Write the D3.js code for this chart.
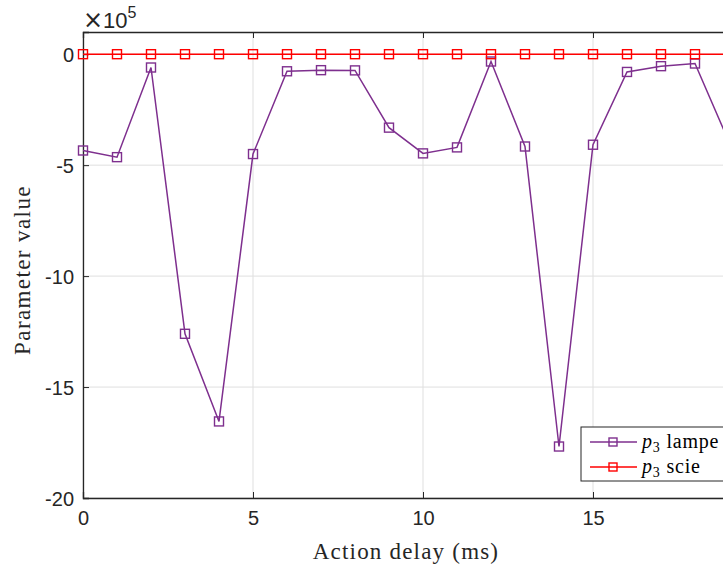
<!DOCTYPE html>
<html><head><meta charset="utf-8">
<script src="https://cdn.jsdelivr.net/npm/d3@7"></script>
<style>body{margin:0;background:#fff;overflow:hidden}svg{display:block}</style>
</head><body>
<script>
const xValues = [0,1,2,3,4,5,6,7,8,9,10,11,12,13,14,15,16,17,18,19];
const lampe = [-4.34,-4.64,-0.60,-12.6,-16.55,-4.50,-0.77,-0.72,-0.73,-3.31,-4.47,-4.20,-0.33,-4.16,-17.68,-4.08,-0.80,-0.54,-0.42,-3.96];
const scie = [0,0,0,0,0,0,0,0,0,0,0,0,0,0,0,0,0,0,0,0];
const xTicks = [0,5,10,15];
const yTicks = [0,-5,-10,-15,-20];
const seriesNames = ["lampe","scie"];

const W=723,H=567;
const m={l:83,r:729,t:32,b:498};
const svg=d3.select("body").append("svg").attr("width",W).attr("height",H);
const x=d3.scaleLinear().domain([0,19]).range([m.l,m.r]);
const y=d3.scaleLinear().domain([-20,1]).range([m.b,m.t]);
const axisCol="#262626", gridCol="#dfdfdf";

// grid
const g=svg.append("g");
g.selectAll(".gx").data(xTicks).enter().append("line")
 .attr("x1",d=>x(d)).attr("x2",d=>x(d)).attr("y1",m.t).attr("y2",m.b)
 .attr("stroke",gridCol).attr("stroke-width",1);
g.selectAll(".gy").data(yTicks).enter().append("line")
 .attr("x1",m.l).attr("x2",m.r).attr("y1",d=>y(d)).attr("y2",d=>y(d))
 .attr("stroke",gridCol).attr("stroke-width",1);

// axes
const fontSans="'Liberation Sans', Arial, sans-serif";
const fontSerif="'Liberation Serif','DejaVu Serif',serif";
const xAx=d3.axisBottom(x).tickValues(xTicks).tickSize(-6).tickPadding(13).tickFormat(d3.format("d"));
const xg=svg.append("g").attr("transform",`translate(0,${m.b})`).call(xAx);
const xTop=d3.axisTop(x).tickValues(xTicks).tickSize(-6).tickFormat("");
const xtg=svg.append("g").attr("transform",`translate(0,${m.t})`).call(xTop);
const yAx=d3.axisLeft(y).tickValues(yTicks).tickSize(-6).tickPadding(9).tickFormat(d=>d===0?"0":"-"+Math.abs(d));
const yg=svg.append("g").attr("transform",`translate(${m.l},0)`).call(yAx);
[xg,xtg,yg].forEach(a=>{
  a.selectAll("path").attr("stroke",axisCol).attr("stroke-width",1.3);
  a.selectAll("line").attr("stroke",axisCol).attr("stroke-width",1);
  a.selectAll("text").attr("fill",axisCol).style("font-family",fontSans).style("font-size","20px");
});
yg.selectAll("text").attr("dy","0.36em");

// exponent
const ex=svg.append("text").attr("x",83).attr("y",28).attr("fill",axisCol)
 .style("font-family",fontSans).style("font-size","22px");
ex.append("tspan").style("font-family","'DejaVu Sans',sans-serif").style("font-size","24px").text("\u00d7");
ex.append("tspan").text("10");
ex.append("tspan").attr("dy",-10).style("font-size","16px").text("5");

// labels
svg.append("text").attr("x",406).attr("y",559).attr("text-anchor","middle")
 .attr("fill",axisCol).style("font-family",fontSerif).style("font-size","23px").style("letter-spacing","1.2px").text("Action delay (ms)");
svg.append("text").attr("transform",`translate(30,270) rotate(-90)`).attr("text-anchor","middle")
 .attr("fill",axisCol).style("font-family",fontSerif).style("font-size","23px").style("letter-spacing","1.4px").text("Parameter value");

// series
const colors=["#7E2F8E","#FF0000"];
const data=[lampe,scie];
const line=d3.line().x((d,i)=>x(xValues[i])).y(d=>y(d));
const plot=svg.append("g");
data.forEach((s,k)=>{
  plot.append("path").datum(s).attr("d",line).attr("fill","none").attr("stroke",colors[k]).attr("stroke-width",1.5);
  plot.selectAll(".m"+k).data(s).enter().append("rect")
   .attr("x",(d,i)=>x(xValues[i])-4.5).attr("y",d=>y(d)-4.5).attr("width",9).attr("height",9)
   .attr("fill","none").attr("stroke",colors[k]).attr("stroke-width",1.4);
});

// legend
const lg=svg.append("g");
lg.append("rect").attr("x",581).attr("y",427).attr("width",143).attr("height",54)
 .attr("fill","#fff").attr("stroke",axisCol).attr("stroke-width",1);
seriesNames.forEach((n,k)=>{
  const yy=442+k*25;
  lg.append("line").attr("x1",590).attr("x2",637).attr("y1",yy).attr("y2",yy).attr("stroke",colors[k]).attr("stroke-width",1.5);
  lg.append("rect").attr("x",613-4).attr("y",yy-4).attr("width",8).attr("height",8).attr("fill","none").attr("stroke",colors[k]).attr("stroke-width",1.4);
  const t=lg.append("text").attr("x",642).attr("y",yy+6).attr("fill","#000").style("font-family",fontSerif).style("font-size","20px").style("letter-spacing","0.8px");
  t.append("tspan").style("font-style","italic").text("p");
  t.append("tspan").attr("dy",4).style("font-size","14px").text("3");
  t.append("tspan").attr("dy",-4).text(" "+n);
});
</script>
</body></html>
